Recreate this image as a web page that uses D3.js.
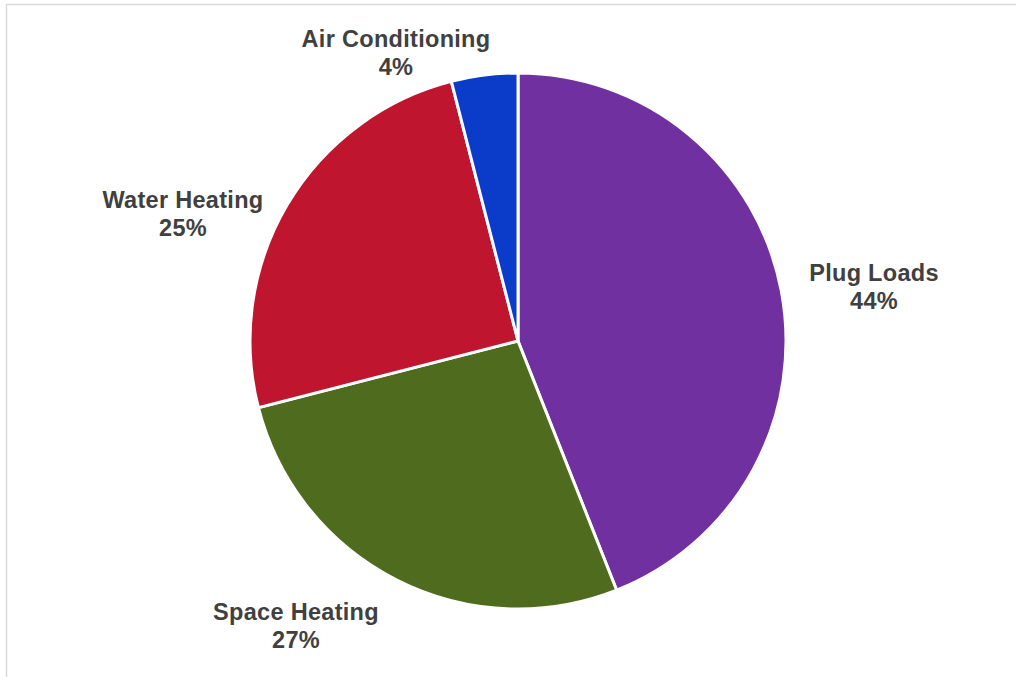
<!DOCTYPE html>
<html><head><meta charset="utf-8">
<script src="https://cdn.jsdelivr.net/npm/d3@7/dist/d3.min.js"></script>
<style>html,body{margin:0;padding:0;background:#fff;overflow:hidden}</style>
</head><body><svg id="c" width="1016" height="677"></svg>
<script>
const categories = ["Plug Loads", "Space Heating", "Water Heating", "Air Conditioning"];
const values = [44, 27, 25, 4];
const colors = ["#7030A0", "#4F6B1E", "#C0152F", "#0A3BC9"];
// label anchor positions (center of label block, pixel) per category
const labelPos = [[874, 281], [296, 620], [183, 208], [396, 47]];

const svg = d3.select("#c");
// chart area border
svg.append("path").attr("d","M6.5,677 L6.5,4.5 L1016,4.5").attr("fill","none").attr("stroke","#d9d9d9").attr("stroke-width",1.5);

const cx = 518, cy = 341, r = 268;
const data = categories.map((c,i)=>({cat:c, val:values[i], col:colors[i], lp:labelPos[i]}));
const pie = d3.pie().value(d=>d.val).sort(null);
const arc = d3.arc().innerRadius(0).outerRadius(r);
const g = svg.append("g").attr("transform",`translate(${cx},${cy})`);
g.selectAll("path").data(pie(data)).join("path")
  .attr("d", arc).attr("fill", d=>d.data.col)
  .attr("stroke","#fff").attr("stroke-width",3).attr("stroke-linejoin","miter");

const lab = svg.append("g").attr("font-family","'Liberation Sans', Arial, sans-serif")
  .attr("font-weight","bold").attr("font-size",23.5).attr("letter-spacing",0.3).attr("fill","#404040").attr("text-anchor","middle");
data.forEach(d=>{
  lab.append("text").attr("x",d.lp[0]).attr("y",d.lp[1]).text(d.cat);
  lab.append("text").attr("x",d.lp[0]).attr("y",d.lp[1]+28).text(d.val+"%");
});
</script></body></html>
